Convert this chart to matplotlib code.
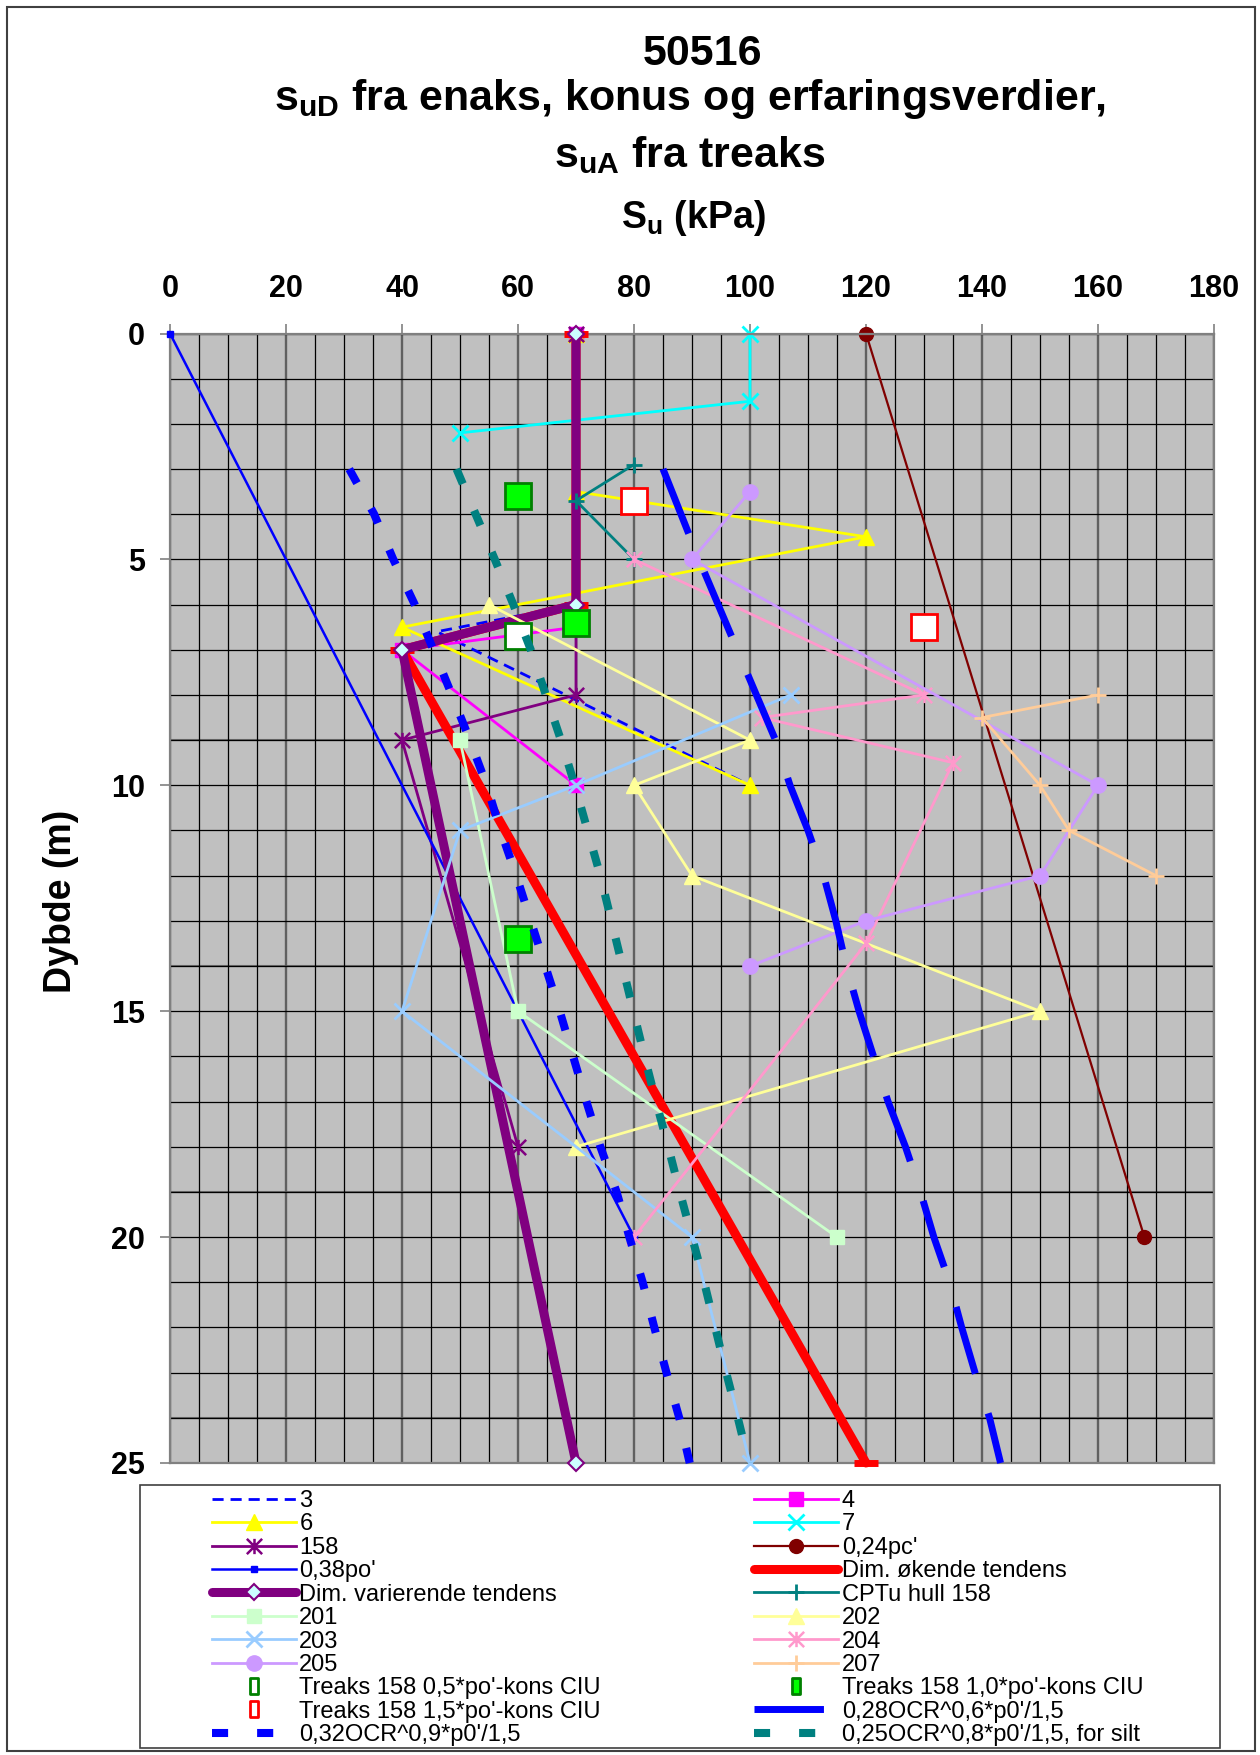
import matplotlib
matplotlib.use('Agg')
import matplotlib.pyplot as plt
from matplotlib.lines import Line2D
from matplotlib.patches import Rectangle
from matplotlib.path import Path

plt.rcParams['font.family'] = ['Liberation Sans', 'DejaVu Sans']
plt.rcParams['mathtext.fontset'] = 'custom'
plt.rcParams['mathtext.rm'] = 'Liberation Sans'
plt.rcParams['mathtext.bf'] = 'Liberation Sans:bold'
plt.rcParams['mathtext.it'] = 'Liberation Sans:italic'

# ---- data (kPa, depth m) ----
s3_x = [70, 46, 100]
s3_y = [6.0, 6.6, 10.0]
s4_x = [70, 70, 40, 70]
s4_y = [0, 6.5, 7, 10]
s6_x = [70, 70, 120, 40, 100]
s6_y = [0, 3.5, 4.5, 6.5, 10]
s7_x = [100, 100, 50]
s7_y = [0, 1.5, 2.2]
s158_x = [70, 70, 40, 60]
s158_y = [0, 8, 9, 18]
pc_x = [120, 168]
pc_y = [0, 20]
po_x = [0, 80]
po_y = [0, 20]
okende_x = [70, 70, 40, 120]
okende_y = [0, 6, 7, 25]
varier_x = [70, 70, 40, 70]
varier_y = [0, 6, 7, 25]
cptu_x = [80, 70, 80]
cptu_y = [2.9, 3.7, 5.0]
s201_x = [50, 60, 115]
s201_y = [9, 15, 20]
s202_x = [55, 100, 80, 90, 150, 70]
s202_y = [6, 9, 10, 12, 15, 18]
s203_x = [107, 70, 50, 40, 90, 100]
s203_y = [8, 10, 11, 15, 20, 25]
s204_x = [80, 130, 102, 135, 120, 80]
s204_y = [5, 8, 8.5, 9.5, 13.5, 20]
s205_x = [100, 90, 160, 150, 120, 100]
s205_y = [3.5, 5, 10, 12, 13, 14]
s207_x = [160, 140, 150, 155, 170]
s207_y = [8, 8.5, 10, 11, 12]
tr05_x = [60]
tr05_y = [6.7]
tr10_x = [60, 70, 60]
tr10_y = [3.6, 6.4, 13.4]
tr15_x = [80, 130]
tr15_y = [3.7, 6.5]
ocr_depth = [3, 4, 5, 6, 7, 8, 9, 10, 11, 12, 13, 14, 15, 16, 17, 18, 19, 20, 21, 22, 23, 24, 25]
ocr028 = [85, 88.1, 91.2, 94.5, 97.8, 101.1, 104.4, 106.9, 110, 112.7, 114.8, 116.6, 118.8,
          121.3, 123.8, 126.8, 129.4, 131.7, 134.4, 136.5, 138.8, 141.3, 143.2]
ocr032 = [30.9, 35.2, 38.5, 42.2, 45.4, 48.6, 51.7, 54.6, 57, 59.7, 62.2, 64.7, 67.2,
          69.5, 71.8, 74.2, 77.0, 79.2, 81.5, 83.5, 85.6, 87.8, 89.6]
ocr025 = [49.4, 52.7, 56, 59.2, 62.2, 64.8, 67.4, 69.8, 72, 74.2, 76.1, 78, 79.9,
          81.8, 83.8, 85.9, 87.9, 90, 92.1, 94, 95.9, 97.9, 99.8]

x_ticks = [0, 20, 40, 60, 80, 100, 120, 140, 160, 180]
y_ticks = [0, 5, 10, 15, 20, 25]

star = Path([(0, -1), (0, 1), (-1, -1), (1, 1), (-1, 1), (1, -1)],
            [Path.MOVETO, Path.LINETO, Path.MOVETO, Path.LINETO, Path.MOVETO, Path.LINETO])
tall = Path([(-0.55, -1), (0.55, -1), (0.55, 1), (-0.55, 1), (-0.55, -1)],
            [Path.MOVETO, Path.LINETO, Path.LINETO, Path.LINETO, Path.CLOSEPOLY])

W, H = 1260, 1755
fig = plt.figure(figsize=(W / 100, H / 100), dpi=100)
ax = fig.add_axes([170 / W, 1 - 1463 / H, 1044 / W, 1129.5 / H])
ax.set_facecolor('#C0C0C0')
ax.set_xlim(0, 180)
ax.set_ylim(25, 0)

# grid
ax.set_xticks(x_ticks)
ax.set_yticks(y_ticks)
ax.set_xticks(range(0, 181, 5), minor=True)
ax.set_yticks(range(0, 26), minor=True)
ax.grid(which='minor', color='black', lw=0.9, zorder=0)
ax.grid(which='major', axis='y', color='black', lw=0.9)
ax.grid(which='major', axis='x', color='#606060', lw=1.7)
for g in [9, 14, 19, 24]:
    ax.axhline(g, color='#707070', lw=1.5, zorder=0.5)
ax.set_axisbelow(True)

for sp in ax.spines.values():
    sp.set_color('#808080')
    sp.set_linewidth(1.6)

ax.xaxis.set_ticks_position('top')
ax.tick_params(axis='x', which='major', direction='out', length=7, width=1.2, color='#808080',
               labelsize=22, pad=14)
ax.tick_params(axis='y', which='major', direction='out', length=7, width=1.2, color='#808080',
               labelsize=22, pad=11)
ax.tick_params(which='minor', length=0)
for lab in ax.get_xticklabels() + ax.get_yticklabels():
    lab.set_fontweight('bold')

kw = dict(clip_on=False)
h = {}
h['3'], = ax.plot(s3_x, s3_y, color='#0000FF', lw=2, ls=(0, (4, 2.5)), zorder=2, **kw)
h['4'], = ax.plot(s4_x, s4_y, color='#FF00FF', lw=2, marker='s', ms=10, zorder=2.1, **kw)
h['6'], = ax.plot(s6_x, s6_y, color='#FFFF00', lw=2, marker='^', ms=11, zorder=2.2, **kw)
h['7'], = ax.plot(s7_x, s7_y, color='#00FFFF', lw=2, marker='x', ms=11, mew=2, zorder=2.3, **kw)
h['158'], = ax.plot(s158_x, s158_y, color='#800080', lw=2, marker=star, ms=11, mew=1.8,
                    mfc='none', zorder=2.4, **kw)
h["0,24pc'"], = ax.plot(pc_x, pc_y, color='#800000', lw=1.6, marker='o', ms=10, zorder=2.5, **kw)
h["0,38po'"], = ax.plot(po_x, po_y, color='#0000FF', lw=1.8, marker='s', ms=4, zorder=2.6, **kw)
h['Dim. økende tendens'], = ax.plot(okende_x, okende_y, color='#FF0000', lw=6.5, marker='_',
                                     ms=17, mew=5, solid_capstyle='round', zorder=2.7, **kw)
h['Dim. varierende tendens'], = ax.plot(varier_x, varier_y, color='#800080', lw=6.5, marker='D',
                                         ms=8.5, mfc='#CCFFFF', mec='#800080', mew=1.5,
                                         solid_capstyle='round', zorder=2.8, **kw)
h['CPTu hull 158'], = ax.plot(cptu_x, cptu_y, color='#008080', lw=2, marker='+', ms=12, mew=2,
                              zorder=2.9, **kw)
h['201'], = ax.plot(s201_x, s201_y, color='#CCFFCC', lw=2, marker='s', ms=10, zorder=3.0, **kw)
h['202'], = ax.plot(s202_x, s202_y, color='#FFFF99', lw=2, marker='^', ms=11, zorder=3.1, **kw)
h['203'], = ax.plot(s203_x, s203_y, color='#99CCFF', lw=2, marker='x', ms=11, mew=2, zorder=3.2, **kw)
h['204'], = ax.plot(s204_x, s204_y, color='#FF99CC', lw=2, marker=star, ms=11, mew=1.8,
                    mfc='none', zorder=3.3, **kw)
h['205'], = ax.plot(s205_x, s205_y, color='#CC99FF', lw=2, marker='o', ms=11, zorder=3.4, **kw)
h['207'], = ax.plot(s207_x, s207_y, color='#FFCC99', lw=2, marker='+', ms=12, mew=2, zorder=3.5, **kw)
ax.plot(tr05_x, tr05_y, ls='none', marker='s', ms=19, mfc='white', mec='#008000', mew=2,
        zorder=3.6, **kw)
ax.plot(tr10_x, tr10_y, ls='none', marker='s', ms=19, mfc='#00FF00', mec='#008000', mew=2,
        zorder=3.7, **kw)
ax.plot(tr15_x, tr15_y, ls='none', marker='s', ms=19, mfc='white', mec='#FF0000', mew=2,
        zorder=3.8, **kw)
h['0,28OCR^0,6*p0\'/1,5'], = ax.plot(ocr028, ocr_depth, color='#0000FF', lw=5,
                                     ls=(0, (10, 6)), zorder=3.9, **kw)
h['0,32OCR^0,9*p0\'/1,5'], = ax.plot(ocr032, ocr_depth, color='#0000FF', lw=5.8,
                                     ls=(0, (2, 3.6)), zorder=4.0, **kw)
h['0,25OCR^0,8*p0\'/1,5, for silt'], = ax.plot(ocr025, ocr_depth, color='#008080', lw=5.8,
                                               ls=(0, (2, 3.6)), zorder=4.1, **kw)
for ln in h.values():
    ln.set_dash_capstyle('butt')

h["Treaks 158 0,5*po'-kons CIU"] = Line2D([], [], ls='none', marker=tall, ms=11, mfc='white',
                                          mec='#008000', mew=2)
h["Treaks 158 1,0*po'-kons CIU"] = Line2D([], [], ls='none', marker=tall, ms=11, mfc='#00FF00',
                                          mec='#008000', mew=2)
h["Treaks 158 1,5*po'-kons CIU"] = Line2D([], [], ls='none', marker=tall, ms=11, mfc='white',
                                          mec='#FF0000', mew=2)

left_col = ['3', '6', '158', "0,38po'", 'Dim. varierende tendens', '201', '203', '205',
            "Treaks 158 0,5*po'-kons CIU", "Treaks 158 1,5*po'-kons CIU", "0,32OCR^0,9*p0'/1,5"]
right_col = ['4', '7', "0,24pc'", 'Dim. økende tendens', 'CPTu hull 158', '202', '204', '207',
             "Treaks 158 1,0*po'-kons CIU", "0,28OCR^0,6*p0'/1,5", "0,25OCR^0,8*p0'/1,5, for silt"]
order = left_col + right_col

# figure border and legend frame
fig.patches.append(Rectangle((7 / W, 4 / H), 1248 / W, 1744 / H, transform=fig.transFigure,
                             fill=False, ec='#404040', lw=1.5))
fig.patches.append(Rectangle((140 / W, 1 - 1748 / H), 1080 / W, 263 / H, transform=fig.transFigure,
                             fc='white', ec='#404040', lw=1.2))

fig.legend([h[k] for k in order], order, ncol=2, loc='upper left',
           bbox_to_anchor=(212 / W, 1 - 1490 / H), bbox_transform=fig.transFigure,
           frameon=False, fontsize=17, borderpad=0, borderaxespad=0, handlelength=3.55,
           handletextpad=0.15, columnspacing=6.5, labelspacing=0.06)

# titles
fig.text(702 / W, 1 - 65 / H, '50516', ha='center', va='baseline', fontsize=31, weight='bold')
fig.text(690 / W, 1 - 110 / H, r'$\mathbf{s_{uD}}$ fra enaks, konus og erfaringsverdier,',
         ha='center', va='baseline', fontsize=31, weight='bold')
fig.text(690 / W, 1 - 167 / H, r'$\mathbf{s_{uA}}$ fra treaks', ha='center', va='baseline',
         fontsize=31, weight='bold')
fig.text(693 / W, 1 - 228 / H, r'$\mathbf{S_u}$ (kPa)', ha='center', va='baseline',
         fontsize=27, weight='bold')
fig.text(61 / W, 1 - 901 / H, 'Dybde (m)', ha='center', va='center', rotation=90,
         fontsize=27, weight='bold')

fig.savefig('out.png', dpi=100)
